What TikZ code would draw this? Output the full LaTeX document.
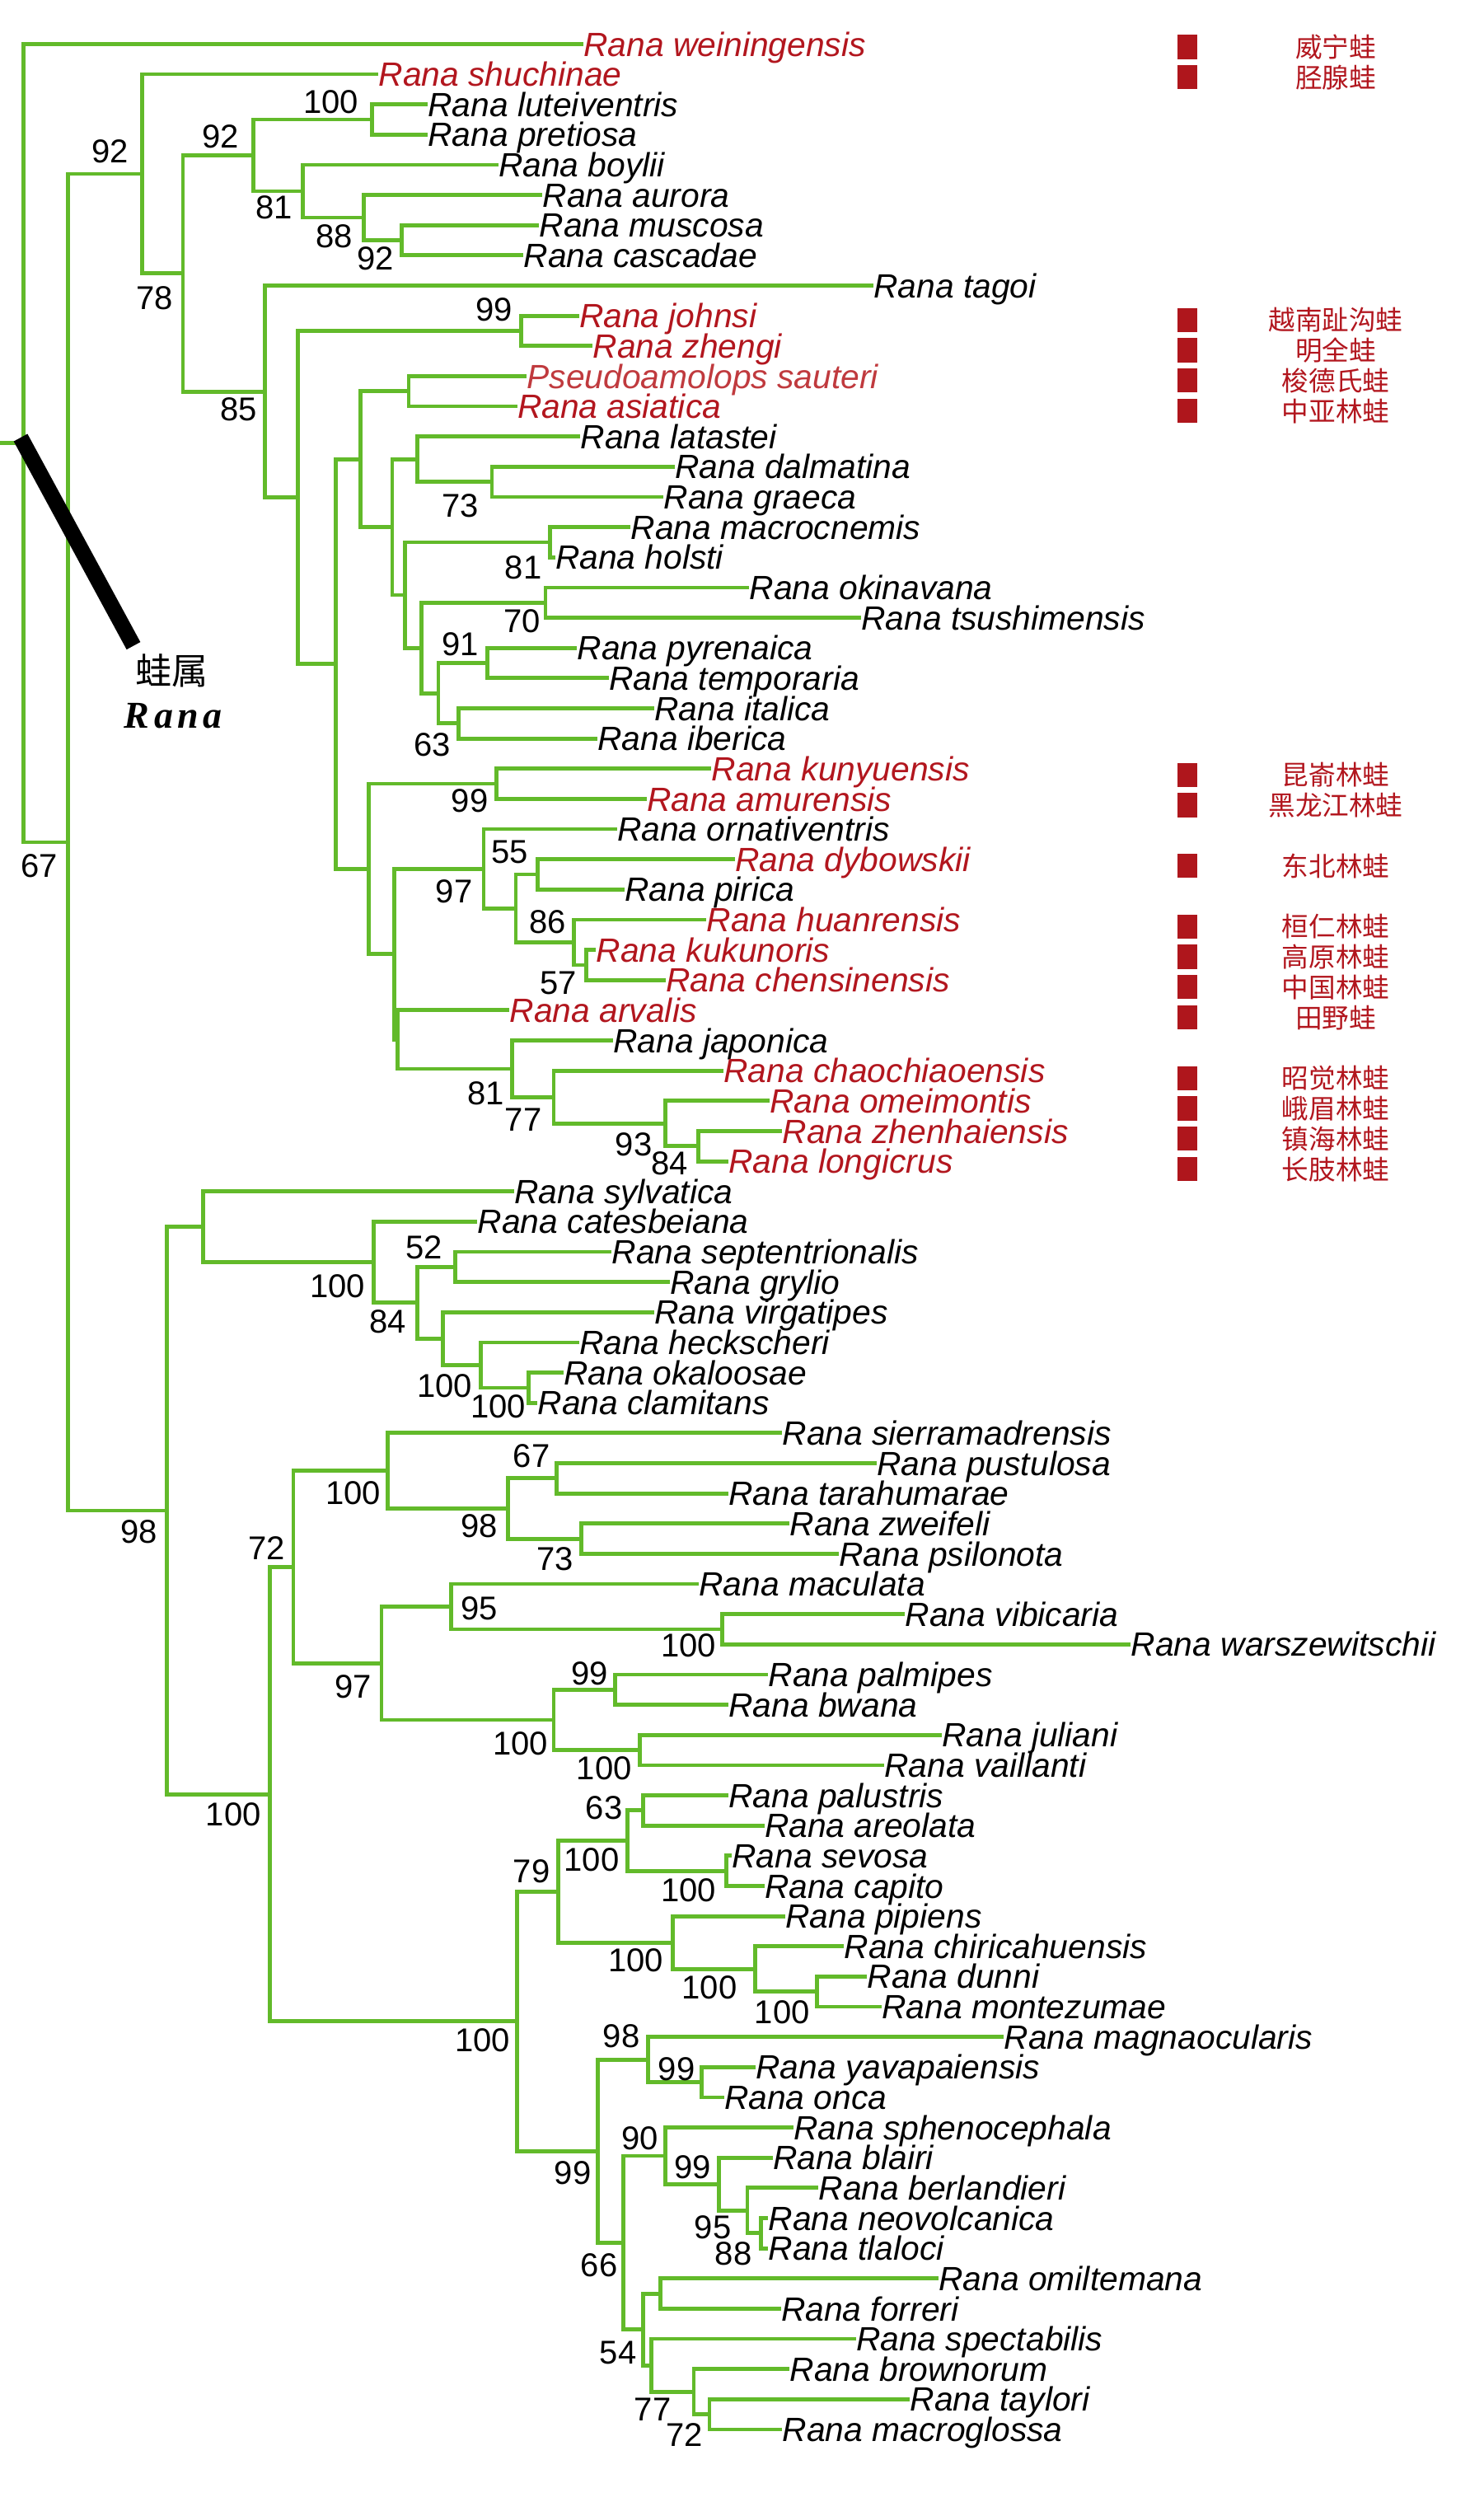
\documentclass[tikz,border=0pt]{standalone}
\usepackage{fontspec}
\setmainfont{Liberation Sans}
\newfontfamily\cjk{Noto Sans CJK SC}
\newfontfamily\genusfont[LetterSpace=12]{Liberation Serif}
\definecolor{treegreen}{RGB}{98,186,42}
\definecolor{redname}{RGB}{178,22,30}
\definecolor{redpseudo}{RGB}{192,58,62}
\definecolor{sqred}{RGB}{175,22,28}
\tikzset{
  edge/.style={draw=treegreen, line width=2.4pt},
  leaf/.style={anchor=west, inner sep=0pt, text height=14.6pt, text depth=0pt,
    font=\fontsize{20.4pt}{22pt}\selectfont\itshape, text=black},
  rleaf/.style={leaf, text=redname},
  pleaf/.style={leaf, text=redpseudo},
  bs/.style={inner sep=0pt, text height=14.3pt, text depth=0pt,
    font=\fontsize{20pt}{22pt}\selectfont, text=black},
  cn/.style={inner sep=0pt, text height=12.4pt, text depth=0pt,
    font=\cjk\fontsize{16.3pt}{18pt}\selectfont, text=redname},
  sq/.style={fill=sqred, minimum width=12.2pt, minimum height=14.6pt, inner sep=0pt},
  genuscn/.style={inner sep=0pt, text height=16.7pt, text depth=0pt,
    font=\cjk\fontsize{22pt}{24pt}\selectfont, text=black},
  genusla/.style={inner sep=0pt, text height=15.2pt, text depth=0pt,
    font=\genusfont\bfseries\itshape\fontsize{23pt}{25pt}\selectfont, text=black},
  bar/.style={draw=black, line width=9.5pt}
}
\begin{document}
\begin{tikzpicture}[x=1pt,y=-1pt]
\useasboundingbox (0,0) rectangle (900,1526.5);
\fill[white] (0,0) rectangle (900,1526.5);

% ---------------- leaves ----------------
\node[rleaf] (L1) at (354.0,26.70) {Rana weiningensis};
\node[rleaf] (L2) at (229.6,45.02) {Rana shuchinae};
\node[leaf] (L3) at (259.5,63.34) {Rana luteiventris};
\node[leaf] (L4) at (259.5,81.66) {Rana pretiosa};
\node[leaf] (L5) at (302.3,99.98) {Rana boylii};
\node[leaf] (L6) at (329.1,118.30) {Rana aurora};
\node[leaf] (L7) at (327.2,136.62) {Rana muscosa};
\node[leaf] (L8) at (317.6,154.94) {Rana cascadae};
\node[leaf] (L9) at (530.0,173.26) {Rana tagoi};
\node[rleaf] (L10) at (351.3,191.58) {Rana johnsi};
\node[rleaf] (L11) at (359.7,209.90) {Rana zhengi};
\node[pleaf] (L12) at (319.6,228.22) {Pseudoamolops sauteri};
\node[rleaf] (L13) at (313.8,246.54) {Rana asiatica};
\node[leaf] (L14) at (352.1,264.86) {Rana latastei};
\node[leaf] (L15) at (409.5,283.18) {Rana dalmatina};
\node[leaf] (L16) at (402.6,301.50) {Rana graeca};
\node[leaf] (L17) at (382.7,319.82) {Rana macrocnemis};
\node[leaf] (L18) at (336.8,338.14) {Rana holsti};
\node[leaf] (L19) at (454.7,356.46) {Rana okinavana};
\node[leaf] (L20) at (522.4,374.78) {Rana tsushimensis};
\node[leaf] (L21) at (350.2,393.10) {Rana pyrenaica};
\node[leaf] (L22) at (369.3,411.42) {Rana temporaria};
\node[leaf] (L23) at (396.9,429.74) {Rana italica};
\node[leaf] (L24) at (362.4,448.06) {Rana iberica};
\node[rleaf] (L25) at (431.7,466.38) {Rana kunyuensis};
\node[rleaf] (L26) at (392.3,484.70) {Rana amurensis};
\node[leaf] (L27) at (374.3,503.02) {Rana ornativentris};
\node[rleaf] (L28) at (445.8,521.34) {Rana dybowskii};
\node[leaf] (L29) at (378.9,539.66) {Rana pirica};
\node[rleaf] (L30) at (428.6,557.98) {Rana huanrensis};
\node[rleaf] (L31) at (361.7,576.30) {Rana kukunoris};
\node[rleaf] (L32) at (403.8,594.62) {Rana chensinensis};
\node[rleaf] (L33) at (309.2,612.94) {Rana arvalis};
\node[leaf] (L34) at (372.0,631.26) {Rana japonica};
\node[rleaf] (L35) at (439.0,649.58) {Rana chaochiaoensis};
\node[rleaf] (L36) at (466.9,667.90) {Rana omeimontis};
\node[rleaf] (L37) at (474.6,686.22) {Rana zhenhaiensis};
\node[rleaf] (L38) at (442.0,704.54) {Rana longicrus};
\node[leaf] (L39) at (311.9,722.86) {Rana sylvatica};
\node[leaf] (L40) at (289.7,741.18) {Rana catesbeiana};
\node[leaf] (L41) at (371.2,759.50) {Rana septentrionalis};
\node[leaf] (L42) at (406.4,777.82) {Rana grylio};
\node[leaf] (L43) at (396.9,796.14) {Rana virgatipes};
\node[leaf] (L44) at (351.3,814.46) {Rana heckscheri};
\node[leaf] (L45) at (341.8,832.78) {Rana okaloosae};
\node[leaf] (L46) at (326.1,851.10) {Rana clamitans};
\node[leaf] (L47) at (474.6,869.42) {Rana sierramadrensis};
\node[leaf] (L48) at (532.0,887.74) {Rana pustulosa};
\node[leaf] (L49) at (442.0,906.06) {Rana tarahumarae};
\node[leaf] (L50) at (479.1,924.38) {Rana zweifeli};
\node[leaf] (L51) at (509.0,942.70) {Rana psilonota};
\node[leaf] (L52) at (424.0,961.02) {Rana maculata};
\node[leaf] (L53) at (549.2,979.34) {Rana vibicaria};
\node[leaf] (L54) at (686.2,997.66) {Rana warszewitschii};
\node[leaf] (L55) at (466.1,1015.98) {Rana palmipes};
\node[leaf] (L56) at (442.0,1034.30) {Rana bwana};
\node[leaf] (L57) at (571.4,1052.62) {Rana juliani};
\node[leaf] (L58) at (536.5,1070.94) {Rana vaillanti};
\node[leaf] (L59) at (442.0,1089.26) {Rana palustris};
\node[leaf] (L60) at (463.8,1107.58) {Rana areolata};
\node[leaf] (L61) at (443.9,1125.90) {Rana sevosa};
\node[leaf] (L62) at (463.8,1144.22) {Rana capito};
\node[leaf] (L63) at (476.5,1162.54) {Rana pipiens};
\node[leaf] (L64) at (512.1,1180.86) {Rana chiricahuensis};
\node[leaf] (L65) at (526.2,1199.18) {Rana dunni};
\node[leaf] (L66) at (535.0,1217.50) {Rana montezumae};
\node[leaf] (L67) at (609.2,1235.82) {Rana magnaocularis};
\node[leaf] (L68) at (458.5,1254.14) {Rana yavapaiensis};
\node[leaf] (L69) at (439.3,1272.46) {Rana onca};
\node[leaf] (L70) at (481.4,1290.78) {Rana sphenocephala};
\node[leaf] (L71) at (468.8,1309.10) {Rana blairi};
\node[leaf] (L72) at (496.7,1327.42) {Rana berlandieri};
\node[leaf] (L73) at (466.1,1345.74) {Rana neovolcanica};
\node[leaf] (L74) at (466.1,1364.06) {Rana tlaloci};
\node[leaf] (L75) at (569.5,1382.38) {Rana omiltemana};
\node[leaf] (L76) at (473.8,1400.70) {Rana forreri};
\node[leaf] (L77) at (519.3,1419.02) {Rana spectabilis};
\node[leaf] (L78) at (479.1,1437.34) {Rana brownorum};
\node[leaf] (L79) at (552.2,1455.66) {Rana taylori};
\node[leaf] (L80) at (474.6,1473.98) {Rana macroglossa};

% ---------------- internal nodes ----------------
\coordinate (rs) at (0,268.83);
\coordinate (root) at (14.2,268.83);
\coordinate (n67) at (41.3,510.96);
\coordinate (n92a) at (86.1,105.47);
\coordinate (n78) at (111.0,165.91);
\coordinate (n92b) at (153.8,94.26);
\coordinate (n100a) at (225.8,72.50);
\coordinate (n81a) at (183.7,116.01);
\coordinate (n88) at (220.8,132.04);
\coordinate (n92c) at (243.8,145.78);
\coordinate (n85) at (160.7,237.55);
\coordinate (nx) at (180.6,301.83);
\coordinate (n99a) at (316.1,200.74);
\coordinate (ny) at (203.6,402.91);
\coordinate (nz) at (218.9,278.60);
\coordinate (npa) at (248.0,237.38);
\coordinate (nw) at (238.0,319.82);
\coordinate (nlat) at (253.3,278.60);
\coordinate (n73) at (298.5,292.34);
\coordinate (nq) at (245.7,361.04);
\coordinate (n81b) at (333.7,328.98);
\coordinate (nr) at (255.6,393.10);
\coordinate (n70) at (331.0,365.62);
\coordinate (ns) at (266.0,420.58);
\coordinate (n91) at (295.8,402.26);
\coordinate (n63) at (278.2,438.90);
\coordinate (nkun) at (223.9,527.21);
\coordinate (n99b) at (301.2,475.54);
\coordinate (na) at (239.2,578.88);
\coordinate (n97) at (293.5,527.07);
\coordinate (n55g) at (313.0,551.11);
\coordinate (n55) at (326.1,530.50);
\coordinate (n86) at (348.3,571.72);
\coordinate (n57) at (355.9,585.46);
\coordinate (nb) at (241.1,630.69);
\coordinate (n81c) at (310.8,648.44);
\coordinate (n77) at (336.0,665.61);
\coordinate (n93) at (403.8,681.64);
\coordinate (n84) at (423.7,695.38);
\coordinate (n98) at (101.4,916.44);
\coordinate (nsyl) at (123.2,744.33);
\coordinate (n100c) at (226.6,765.80);
\coordinate (n84b) at (253.3,790.42);
\coordinate (n52) at (276.3,768.66);
\coordinate (nvirg) at (268.7,812.17);
\coordinate (n100e) at (291.6,828.20);
\coordinate (n100f) at (320.7,841.94);
\coordinate (n100big) at (163.8,1088.55);
\coordinate (n72) at (178.0,950.72);
\coordinate (n100g) at (235.4,892.32);
\coordinate (n98b) at (308.1,915.22);
\coordinate (n67b) at (337.9,896.90);
\coordinate (n73b) at (352.9,933.54);
\coordinate (n97b) at (231.5,1009.11);
\coordinate (n95) at (273.6,974.76);
\coordinate (n100h) at (438.2,988.50);
\coordinate (n100i) at (336.0,1043.46);
\coordinate (n99e) at (373.1,1025.14);
\coordinate (n100j) at (388.4,1061.78);
\coordinate (n100d) at (313.8,1226.38);
\coordinate (n79) at (338.7,1147.66);
\coordinate (n100k) at (380.8,1116.74);
\coordinate (n63b) at (390.4,1098.42);
\coordinate (n100l) at (440.9,1135.06);
\coordinate (n100m) at (408.3,1178.57);
\coordinate (n100n) at (458.1,1194.60);
\coordinate (n100o) at (495.6,1208.34);
\coordinate (n99c) at (362.8,1305.10);
\coordinate (n98c) at (393.4,1249.56);
\coordinate (n99f) at (425.6,1263.30);
\coordinate (n66) at (378.1,1360.63);
\coordinate (n90) at (403.8,1307.96);
\coordinate (n99d) at (436.3,1325.13);
\coordinate (n95b) at (453.5,1341.16);
\coordinate (n88b) at (461.9,1354.90);
\coordinate (n54) at (390.4,1413.30);
\coordinate (nomil) at (400.7,1391.54);
\coordinate (nspec) at (395.3,1435.05);
\coordinate (n77b) at (421.0,1451.08);
\coordinate (n72b) at (430.5,1464.82);

% ---------------- branches ----------------
\draw[edge] (rs) -- (root);
\foreach \p/\c in {
  root/L1.west, root/n67,
  n67/n92a, n67/n98,
  n92a/L2.west, n92a/n78,
  n78/n92b, n78/n85,
  n92b/n100a, n92b/n81a,
  n100a/L3.west, n100a/L4.west,
  n81a/L5.west, n81a/n88,
  n88/L6.west, n88/n92c,
  n92c/L7.west, n92c/L8.west,
  n85/L9.west, n85/nx,
  nx/n99a, nx/ny,
  n99a/L10.west, n99a/L11.west,
  ny/nz, ny/nkun,
  nz/npa, nz/nw,
  npa/L12.west, npa/L13.west,
  nw/nlat, nw/nq,
  nlat/L14.west, nlat/n73,
  n73/L15.west, n73/L16.west,
  nq/n81b, nq/nr,
  n81b/L17.west, n81b/L18.west,
  nr/n70, nr/ns,
  n70/L19.west, n70/L20.west,
  ns/n91, ns/n63,
  n91/L21.west, n91/L22.west,
  n63/L23.west, n63/L24.west,
  nkun/n99b, nkun/na,
  n99b/L25.west, n99b/L26.west,
  na/n97, na/nb,
  n97/L27.west, n97/n55g,
  n55g/n55, n55g/n86,
  n55/L28.west, n55/L29.west,
  n86/L30.west, n86/n57,
  n57/L31.west, n57/L32.west,
  nb/L33.west, nb/n81c,
  n81c/L34.west, n81c/n77,
  n77/L35.west, n77/n93,
  n93/L36.west, n93/n84,
  n84/L37.west, n84/L38.west,
  n98/nsyl, n98/n100big,
  nsyl/L39.west, nsyl/n100c,
  n100c/L40.west, n100c/n84b,
  n84b/n52, n84b/nvirg,
  n52/L41.west, n52/L42.west,
  nvirg/L43.west, nvirg/n100e,
  n100e/L44.west, n100e/n100f,
  n100f/L45.west, n100f/L46.west,
  n100big/n72, n100big/n100d,
  n72/n100g, n72/n97b,
  n100g/L47.west, n100g/n98b,
  n98b/n67b, n98b/n73b,
  n67b/L48.west, n67b/L49.west,
  n73b/L50.west, n73b/L51.west,
  n97b/n95, n97b/n100i,
  n95/L52.west, n95/n100h,
  n100h/L53.west, n100h/L54.west,
  n100i/n99e, n100i/n100j,
  n99e/L55.west, n99e/L56.west,
  n100j/L57.west, n100j/L58.west,
  n100d/n79, n100d/n99c,
  n79/n100k, n79/n100m,
  n100k/n63b, n100k/n100l,
  n63b/L59.west, n63b/L60.west,
  n100l/L61.west, n100l/L62.west,
  n100m/L63.west, n100m/n100n,
  n100n/L64.west, n100n/n100o,
  n100o/L65.west, n100o/L66.west,
  n99c/n98c, n99c/n66,
  n98c/L67.west, n98c/n99f,
  n99f/L68.west, n99f/L69.west,
  n66/n90, n66/n54,
  n90/L70.west, n90/n99d,
  n99d/L71.west, n99d/n95b,
  n95b/L72.west, n95b/n88b,
  n88b/L73.west, n88b/L74.west,
  n54/nomil, n54/nspec,
  nomil/L75.west, nomil/L76.west,
  nspec/L77.west, nspec/n77b,
  n77b/L78.west, n77b/n72b,
  n72b/L79.west, n72b/L80.west}
  \draw[edge] (\p) |- (\c);

% ---------------- support values ----------------
\node[bs] (b1) at (67.0,91.7) {92};
\node[bs] (b2) at (200.9,61.7) {100};
\node[bs] (b3) at (133.9,82.8) {92};
\node[bs] (b4) at (166.5,125.8) {81};
\node[bs] (b5) at (202.8,143.3) {88};
\node[bs] (b6) at (227.7,156.7) {92};
\node[bs] (b7) at (93.8,180.8) {78};
\node[bs] (b8) at (299.7,187.5) {99};
\node[bs] (b9) at (144.7,248.3) {85};
\node[bs] (b10) at (279.4,306.7) {73};
\node[bs] (b11) at (317.6,344.2) {81};
\node[bs] (b12) at (316.9,376.7) {70};
\node[bs] (b13) at (279.4,390.8) {91};
\node[bs] (b14) at (262.2,451.7) {63};
\node[bs] (b15) at (285.1,485.8) {99};
\node[bs] (b16) at (23.7,525.0) {67};
\node[bs] (b17) at (309.2,516.7) {55};
\node[bs] (b18) at (275.5,540.8) {97};
\node[bs] (b19) at (332.2,559.2) {86};
\node[bs] (b20) at (338.7,596.3) {57};
\node[bs] (b21) at (294.7,663.3) {81};
\node[bs] (b22) at (317.6,679.2) {77};
\node[bs] (b23) at (384.6,694.2) {93};
\node[bs] (b24) at (406.4,705.8) {84};
\node[bs] (b25) at (257.2,756.7) {52};
\node[bs] (b26) at (204.7,780.0) {100};
\node[bs] (b27) at (235.4,801.7) {84};
\node[bs] (b28) at (269.8,840.8) {100};
\node[bs] (b29) at (302.3,853.3) {100};
\node[bs] (b30) at (84.2,929.2) {98};
\node[bs] (b31) at (161.9,939.2) {72};
\node[bs] (b32) at (214.3,905.8) {100};
\node[bs] (b33) at (322.6,883.3) {67};
\node[bs] (b34) at (290.9,925.8) {98};
\node[bs] (b35) at (336.8,945.8) {73};
\node[bs] (b36) at (290.9,975.8) {95};
\node[bs] (b37) at (417.9,998.3) {100};
\node[bs] (b38) at (141.6,1100.8) {100};
\node[bs] (b39) at (214.3,1023.3) {97};
\node[bs] (b40) at (315.7,1057.5) {100};
\node[bs] (b41) at (357.8,1015.0) {99};
\node[bs] (b42) at (366.6,1072.5) {100};
\node[bs] (b43) at (292.8,1237.5) {100};
\node[bs] (b44) at (322.6,1135.0) {79};
\node[bs] (b45) at (359.0,1128.3) {100};
\node[bs] (b46) at (366.6,1096.7) {63};
\node[bs] (b47) at (417.9,1146.7) {100};
\node[bs] (b48) at (385.8,1189.2) {100};
\node[bs] (b49) at (430.5,1205.8) {100};
\node[bs] (b50) at (474.6,1220.8) {100};
\node[bs] (b51) at (377.0,1235.0) {98};
\node[bs] (b52) at (347.5,1318.2) {99};
\node[bs] (b53) at (410.6,1255.0) {99};
\node[bs] (b54) at (363.6,1374.1) {66};
\node[bs] (b55) at (388.4,1297.0) {90};
\node[bs] (b56) at (420.2,1314.7) {99};
\node[bs] (b57) at (432.5,1351.0) {95};
\node[bs] (b58) at (445.1,1367.0) {88};
\node[bs] (b59) at (375.0,1427.2) {54};
\node[bs] (b60) at (396.1,1461.8) {77};
\node[bs] (b61) at (415.2,1476.9) {72};

% ---------------- genus mark ----------------
\draw[bar] (12.5,265.5) -- (81.0,391.8);
\node[genuscn] (gcn) at (104.1,406.7) {蛙属};
\node[genusla] (gla) at (105.2,434.2) {Rana};

% ---------------- Chinese names ----------------
\foreach \i/\yy/\t in {
  1/28.5/威宁蛙, 2/46.9/胫腺蛙, 3/194.1/越南趾沟蛙, 4/212.5/明全蛙,
  5/230.9/梭德氏蛙, 6/249.3/中亚林蛙, 7/470.1/昆嵛林蛙, 8/488.5/黑龙江林蛙,
  9/525.3/东北林蛙, 10/562.1/桓仁林蛙, 11/580.5/高原林蛙, 12/598.9/中国林蛙,
  13/617.3/田野蛙, 14/654.1/昭觉林蛙, 15/672.5/峨眉林蛙, 16/690.9/镇海林蛙,
  17/709.3/长肢林蛙}{
  \node[sq] (s\i) at (720.5,\yy) {};
  \node[cn] (c\i) at (810.5,\yy) {\t};
}
\end{tikzpicture}
\end{document}
